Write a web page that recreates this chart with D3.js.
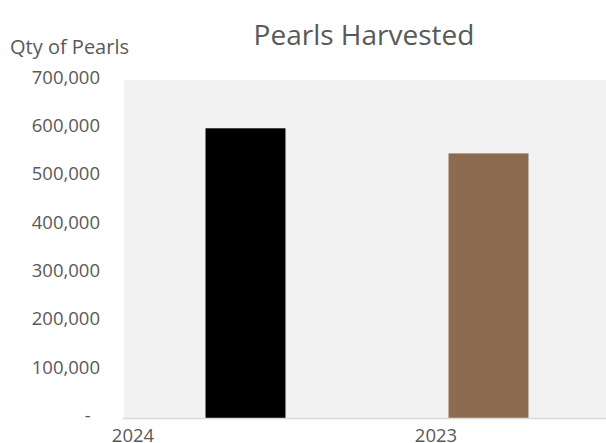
<!DOCTYPE html>
<html>
<head>
<meta charset="utf-8">
<script src="https://cdn.jsdelivr.net/npm/d3@7"></script>
<style>
  body { margin: 0; background: #fff; }
  text { font-family: "Open Sans", sans-serif; fill: #595959; }
</style>
</head>
<body>
<div id="chart"></div>
<script>
var years = ["2024", "2023"]
var pearls = [600000, 548000]
var barColors = ["#000000", "#8c6b4f"]
var yTicks = [0, 100000, 200000, 300000, 400000, 500000, 600000, 700000]

var width = 606,
  height = 443

var svg = d3.select("#chart")
  .append("svg")
  .attr("width", width)
  .attr("height", height)

var plotLeft = 124, plotRight = 610, plotTop = 80, plotBottom = 418

// plot area background
svg.append("rect")
  .attr("x", plotLeft)
  .attr("y", plotTop)
  .attr("width", plotRight - plotLeft)
  .attr("height", plotBottom - plotTop)
  .attr("fill", "#f2f2f2")

var x = d3.scaleBand()
  .domain(years)
  .range([plotLeft, plotRight])
  .paddingInner(0.671)
  .paddingOuter(0.3355)

var y = d3.scaleLinear()
  .domain([0, 700000])
  .range([plotBottom, plotTop])

svg.selectAll(".bar")
  .data(years)
  .enter()
  .append("rect")
  .attr("class", "bar")
  .attr("x", function (d) { return x(d) })
  .attr("y", function (d, i) { return y(pearls[i]) })
  .attr("width", x.bandwidth())
  .attr("height", function (d, i) { return plotBottom - y(pearls[i]) })
  .attr("fill", function (d, i) { return barColors[i] })

// y axis labels
var yAxis = svg.append("g")
  .attr("transform", "translate(" + plotLeft + ",0)")
  .call(d3.axisLeft(y)
    .tickValues(yTicks)
    .tickSize(0)
    .tickPadding(24)
    .tickFormat(function (d) { return d === 0 ? "-\u2002" : d3.format(",")(d) }))
yAxis.select(".domain").remove()
yAxis.selectAll("text")
  .attr("dy", "0.18em")
  .style("font-family", "'Open Sans', sans-serif")
  .style("font-size", "18.5px")
  .attr("fill", "#595959")

// x axis line
svg.append("line")
  .attr("x1", plotLeft - 1)
  .attr("x2", width)
  .attr("y1", plotBottom + 0.5)
  .attr("y2", plotBottom + 0.5)
  .attr("stroke", "#d9d9d9")
  .attr("stroke-width", 1.5)

// category labels sit oddly left of the bars in the original
var labelX = d3.scalePoint()
  .domain(years)
  .range([133, 436])

svg.selectAll(".xlabel")
  .data(years)
  .enter()
  .append("text")
  .attr("class", "xlabel")
  .attr("x", function (d) { return labelX(d) })
  .attr("y", 441.5)
  .attr("text-anchor", "middle")
  .style("font-size", "18.5px")
  .text(function (d) { return d })

svg.append("text")
  .attr("x", 364)
  .attr("y", 45)
  .attr("text-anchor", "middle")
  .style("font-size", "28px")
  .text("Pearls Harvested")

svg.append("text")
  .attr("x", 10)
  .attr("y", 54)
  .style("font-size", "20px")
  .text("Qty of Pearls")
</script>
</body>
</html>
